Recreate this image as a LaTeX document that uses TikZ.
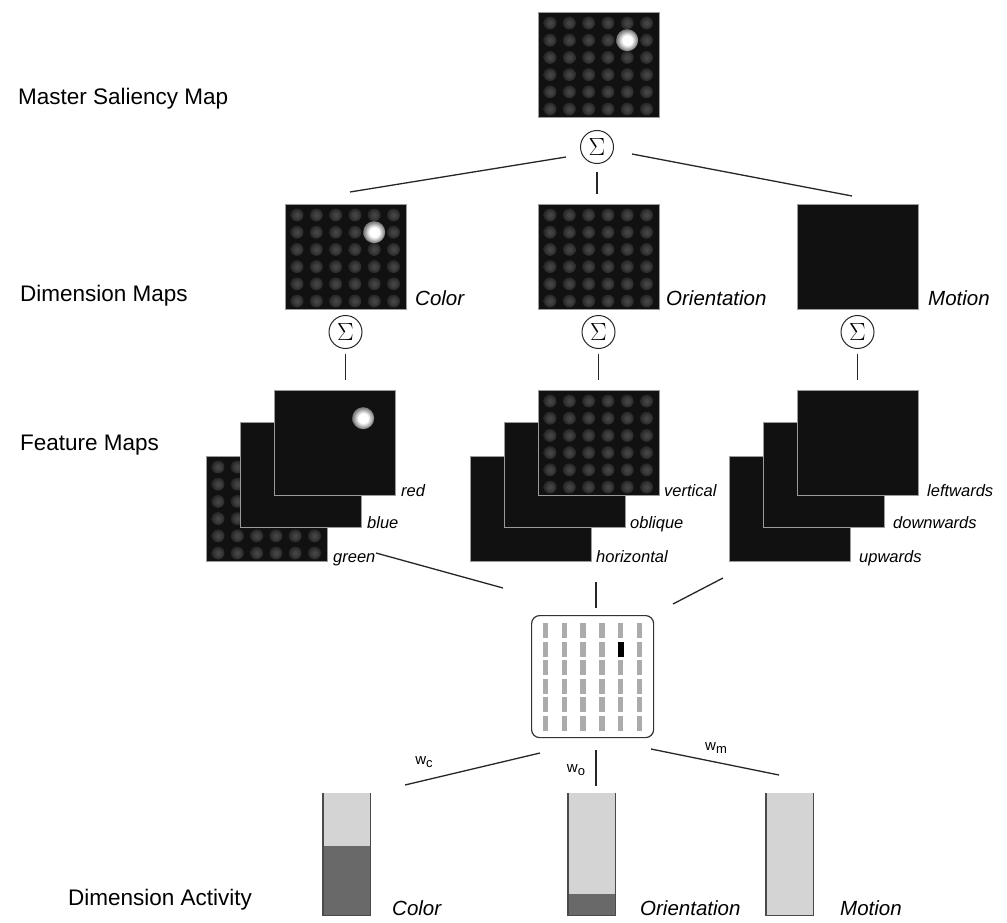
\documentclass[tikz,border=0pt]{standalone}
\usepackage{fontspec}
\setmainfont{Liberation Sans}
\definecolor{mapbg}{HTML}{111111}
\definecolor{mapedge}{HTML}{9A9A9A}
\definecolor{spotc}{HTML}{474747}
\definecolor{barlight}{HTML}{D4D4D4}
\definecolor{bardark}{HTML}{696969}
\definecolor{baredge}{HTML}{4A4A4A}
\definecolor{stimbar}{HTML}{ABABAB}
\pgfdeclareradialshading{spot}{\pgfpoint{0bp}{0bp}}{color(0bp)=(spotc); color(10bp)=(spotc!85!mapbg); color(26bp)=(spotc!35!mapbg); color(50bp)=(mapbg)}
\pgfdeclareradialshading{blob}{\pgfpoint{0bp}{0bp}}{color(0bp)=(white); color(11bp)=(white); color(24bp)=(white!45!mapbg); color(50bp)=(mapbg)}
\newcommand\mapspots[2]{%
  \foreach \i in {0,...,5}{\foreach \j in {0,...,5}{%
    \shade[shading=spot] ({#1+12+\i*19.3},{#2+11+\j*17.2}) circle (6.5pt);}}}
\newcommand\mapblob[2]{\shade[shading=blob] ({#1+12+4*19.3},{#2+11+17.2}) circle (11pt);}
\begin{document}
\begin{tikzpicture}[x=1pt,y=-1pt,
  map/.style={draw=mapedge, fill=mapbg, line width=0.8pt, minimum width=121pt, minimum height=105pt, inner sep=0pt, anchor=north west},
  sig/.style={circle, draw=black!85, line width=1pt, minimum size=33pt, inner sep=0pt, font=\fontsize{25}{25}\selectfont},
  conn/.style={draw=black!85, line width=1.3pt},
  lefttext/.style={anchor=west, font=\fontsize{22.5}{26}\selectfont, inner sep=0pt},
  dimlab/.style={anchor=base west, font=\fontsize{20.5}{24}\selectfont\itshape, inner sep=0pt},
  featlab/.style={anchor=base west, font=\fontsize{16.5}{18}\selectfont\itshape, inner sep=0pt},
  wlab/.style={font=\fontsize{15}{16}\selectfont, inner sep=0pt},
  stim/.style={draw=black!80, line width=1.2pt, rounded corners=8pt, minimum width=122pt, minimum height=122pt, anchor=north west, inner sep=0pt},
  barlt/.style={fill=barlight, draw=none, minimum width=47pt, anchor=north west, inner sep=0pt},
  bardk/.style={fill=bardark, draw=none, minimum width=47pt, anchor=south west, inner sep=0pt},
  baredge/.style={draw=baredge, line width=1.5pt},
]
\useasboundingbox (0,0) rectangle (1007,923);
\fill[white] (0,0) rectangle (1007,923);

% left labels
\node[lefttext] (tmaster) at (18,99) {Master Saliency Map};
\node[lefttext] (tdim) at (20,296) {Dimension Maps};
\node[lefttext] (tfeat) at (20,445) {Feature Maps};
\node[lefttext] (tact) at (68,900) {Dimension Activity};

% master map
\node[map] (master) at (538,12) {}; \mapspots{538}{12} \mapblob{538}{12}
\node[sig] (sigT) at (597,147) {$\Sigma$};

% dimension maps
\node[map] (dimC) at (285,204) {}; \mapspots{285}{204} \mapblob{285}{204}
\node[map] (dimO) at (538,204) {}; \mapspots{538}{204}
\node[map] (dimM) at (797,204) {};
\node[dimlab] (lC) at (415,305) {Color};
\node[dimlab] (lO) at (666,305) {Orientation};
\node[dimlab] (lM) at (928,305) {Motion};

\coordinate (tl1) at (566,157); \coordinate (tl2) at (350,192);
\coordinate (tr1) at (632,154); \coordinate (tr2) at (852,196);
\coordinate (tm1) at (597,172); \coordinate (tm2) at (597,194);
\draw[conn] (tl1) -- (tl2);
\draw[conn] (tr1) -- (tr2);
\draw[conn] (tm1) -- (tm2);

\node[sig] (sigC) at (345.5,332) {$\Sigma$};
\node[sig] (sigO) at (598.5,332) {$\Sigma$};
\node[sig] (sigM) at (857.5,332) {$\Sigma$};
\coordinate (sc1) at (345.5,354); \coordinate (sc2) at (345.5,380);
\coordinate (so1) at (598.5,354); \coordinate (so2) at (598.5,380);
\coordinate (sm1) at (857.5,354); \coordinate (sm2) at (857.5,380);
\draw[conn] (sc1) -- (sc2);
\draw[conn] (so1) -- (so2);
\draw[conn] (sm1) -- (sm2);

% color feature stack
\node[map] (fgreen) at (206,456) {}; \mapspots{206}{456}
\node[map] (fblue) at (240,422) {};
\node[map] (fred) at (274,390) {}; \mapblob{274}{390}
\node[featlab] (lred) at (401,496) {red};
\node[featlab] (lblue) at (367,528) {blue};
\node[featlab] (lgreen) at (333,562) {green};

% orientation feature stack
\node[map] (fhor) at (470,456) {};
\node[map] (fobl) at (504,422) {};
\node[map] (fver) at (538,390) {}; \mapspots{538}{390}
\node[featlab] (lver) at (664,496) {vertical};
\node[featlab] (lobl) at (630,528) {oblique};
\node[featlab] (lhor) at (596,562) {horizontal};

% motion feature stack
\node[map] (fup) at (729,456) {};
\node[map] (fdown) at (763,422) {};
\node[map] (fleft) at (797,390) {};
\node[featlab] (llef) at (927,496) {leftwards};
\node[featlab] (ldow) at (893,528) {downwards};
\node[featlab] (lupw) at (859,562) {upwards};

% stimulus display
\node[stim] (stim) at (531,615) {};
\foreach \i in {0,...,5}{\foreach \j in {0,...,5}{%
  \fill[stimbar] ({545.5+\i*18.8-2.7},{623+\j*18.5}) rectangle ++(5.4,15);}}
\fill[black] ({545.5+4*18.8-2.8},{623+18.5}) rectangle ++(5.6,15);

\coordinate (fl1) at (376,553); \coordinate (fl2) at (503,588);
\coordinate (fr1) at (723,578); \coordinate (fr2) at (673,604);
\coordinate (fm1) at (596,582); \coordinate (fm2) at (596,608);
\draw[conn] (fl1) -- (fl2);
\draw[conn] (fr1) -- (fr2);
\draw[conn] (fm1) -- (fm2);

% weights
\coordinate (wc1) at (540,753); \coordinate (wc2) at (405,785);
\coordinate (wo1) at (596,750); \coordinate (wo2) at (596,786);
\coordinate (wm1) at (651,749); \coordinate (wm2) at (779,775);
\draw[conn] (wc1) -- (wc2);
\draw[conn] (wo1) -- (wo2);
\draw[conn] (wm1) -- (wm2);
\node[wlab] (twc) at (424,762) {w\raisebox{-3.5pt}{\fontsize{13}{13}\selectfont c}};
\node[wlab] (two) at (576,770) {w\raisebox{-3.5pt}{\fontsize{13}{13}\selectfont o}};
\node[wlab] (twm) at (716,748) {w\raisebox{-3.5pt}{\fontsize{13}{13}\selectfont m}};

% activity bars
\node[barlt, minimum height=122pt] (bC) at (323,793) {};
\node[bardk, minimum height=69pt] (bCd) at (323,915) {};
\draw[baredge] (bC.north west) -- (bC.south west) -- (bC.south east) -- (bC.north east);
\node[barlt, minimum height=122pt] (bO) at (568,793) {};
\node[bardk, minimum height=21pt] (bOd) at (568,915) {};
\draw[baredge] (bO.north west) -- (bO.south west) -- (bO.south east) -- (bO.north east);
\node[barlt, minimum height=122pt] (bM) at (766,793) {};
\draw[baredge] (bM.north west) -- (bM.south west) -- (bM.south east) -- (bM.north east);

\node[dimlab] (aC) at (392,915) {Color};
\node[dimlab] (aO) at (640,915) {Orientation};
\node[dimlab] (aM) at (840,915) {Motion};
\end{tikzpicture}
\end{document}
